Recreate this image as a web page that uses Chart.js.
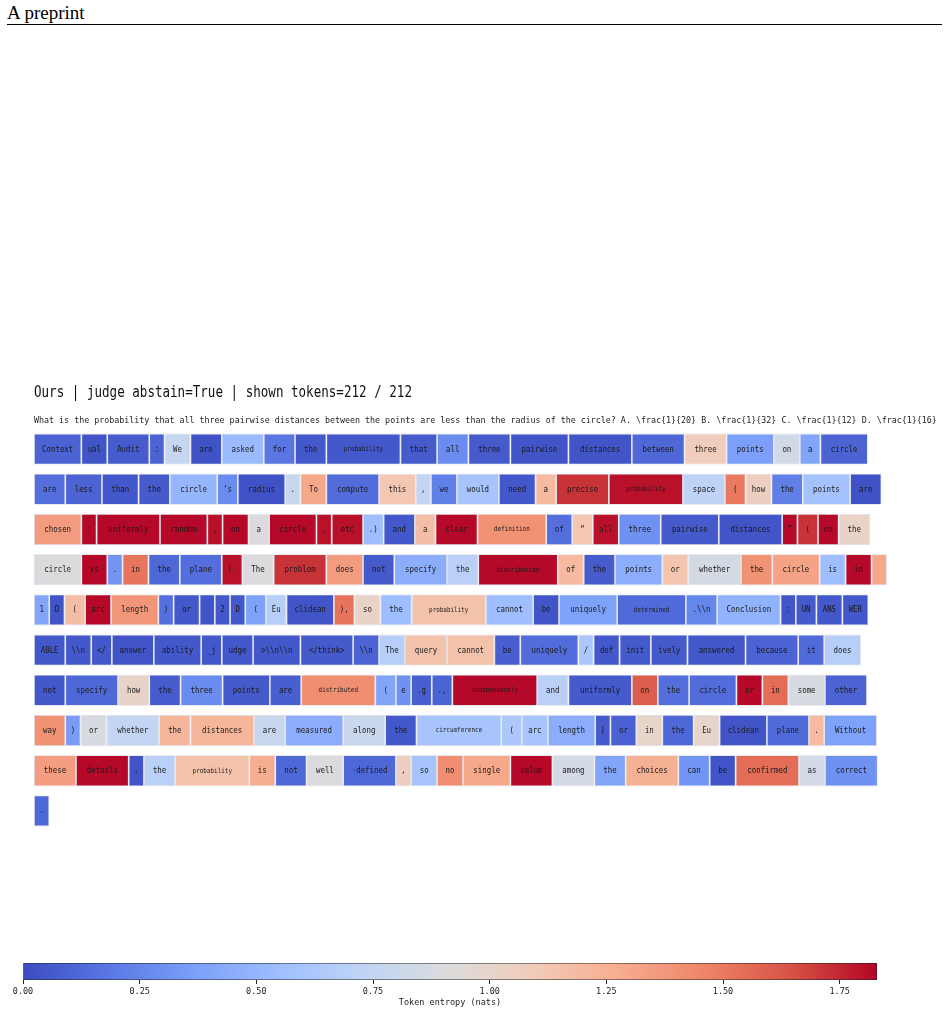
<!DOCTYPE html>
<html>
<head>
<meta charset="utf-8">
<script src="https://cdn.jsdelivr.net/npm/chart.js@4.4.1/dist/chart.umd.min.js"></script>
<style>
    html, body { margin: 0; padding: 0; background: #fff; }
    body { width: 949px; height: 1014px; position: relative; overflow: hidden; }
    #header {
        position: absolute; left: 7px; top: 2px; width: 935px;
        font-family: 'Liberation Serif', 'DejaVu Serif', serif;
        font-size: 19px; line-height: 21px;
        border-bottom: 1px solid #000; padding-bottom: 1px;
    }
    #tokenWrap { position: absolute; left: 0; top: 370px; }
    #cbarWrap { position: absolute; left: 0; top: 950px; }
</style>
</head>
<body>
<div id="header">A preprint</div>
<div id="tokenWrap"><canvas id="tokenChart" width="949" height="470"></canvas></div>
<div id="cbarWrap"><canvas id="cbarChart" width="949" height="64"></canvas></div>
<script>
// ---- data ----
const TITLE = 'Ours | judge abstain=True | shown tokens=212 / 212';
const QUESTION = 'What is the probability that all three pairwise distances between the points are less than the radius of the circle? A. \\frac{1}{20} B. \\frac{1}{32} C. \\frac{1}{12} D. \\frac{1}{16}';

// one array per displayed line (leading space kept as in the tokenizer)
const TOKEN_ROWS = [
    ['Context', 'ual', ' Audit', ':', ' We', ' are', ' asked', ' for', ' the', ' probability', ' that', ' all', ' three', ' pairwise', ' distances', ' between', ' three', ' points', ' on', ' a', ' circle'],
    [' are', ' less', ' than', ' the', ' circle', '’s', ' radius', '.', ' To', ' compute', ' this', ',', ' we', ' would', ' need', ' a', ' precise', ' probability', ' space', ' (', 'how', ' the', ' points', ' are'],
    [' chosen', ':', ' uniformly', ' random', ',', ' on', ' a', ' circle', ',', ' etc', '.)', ' and', ' a', ' clear', ' definition', ' of', ' “', 'all', ' three', ' pairwise', ' distances', '”', ' (', 'on', ' the'],
    [' circle', ' vs', '.', ' in', ' the', ' plane', ').', ' The', ' problem', ' does', ' not', ' specify', ' the', ' distribution', ' of', ' the', ' points', ' or', ' whether', ' the', ' circle', ' is', ' in', ' '],
    ['1', 'D', ' (', 'arc', ' length', ')', ' or', ' ', '2', 'D', ' (', 'Eu', 'clidean', '),', ' so', ' the', ' probability', ' cannot', ' be', ' uniquely', ' determined', '.\\\\n', 'Conclusion', ':', 'UN', 'ANS', 'WER'],
    ['ABLE', '\\\\n', '</', 'answer', 'ability', '_j', 'udge', '>\\\\n\\\\n', '</think>', '\\\\n', 'The', ' query', ' cannot', ' be', ' uniquely', '/', 'def', 'init', 'ively', ' answered', ' because', ' it', ' does'],
    [' not', ' specify', ' how', ' the', ' three', ' points', ' are', ' distributed', ' (', 'e', '.g', '.,', ' independently', ' and', ' uniformly', ' on', ' the', ' circle', ' or', ' in', ' some', ' other'],
    [' way', ')', ' or', ' whether', ' the', ' distances', ' are', ' measured', ' along', ' the', ' circumference', ' (', 'arc', ' length', ')', ' or', ' in', ' the', ' Eu', 'clidean', ' plane', '.', ' Without'],
    [' these', ' details', ',', ' the', ' probability', ' is', ' not', ' well', '-defined', ',', ' so', ' no', ' single', ' value', ' among', ' the', ' choices', ' can', ' be', ' confirmed', ' as', ' correct'],
    ['.']
];

// token entropy (nats), same shape as TOKEN_ROWS
const ENTROPY_ROWS = [
    [0.10, 0.04, 0.07, 0.10, 0.77, 0.03, 0.53, 0.18, 0.05, 0.05, 0.07, 0.28, 0.06, 0.04, 0.04, 0.12, 1.08, 0.37, 0.84, 0.40, 0.10],
    [0.15, 0.10, 0.05, 0.06, 0.50, 0.28, 0.03, 0.78, 1.30, 0.14, 1.12, 0.75, 0.22, 0.60, 0.05, 1.20, 1.72, 1.80, 0.72, 1.50, 1.05, 0.22, 0.58, 0.03],
    [1.36, 1.82, 1.82, 1.82, 1.80, 1.82, 0.90, 1.82, 1.80, 1.80, 0.55, 0.05, 1.18, 1.82, 1.40, 0.15, 1.12, 1.80, 0.30, 0.06, 0.04, 1.82, 1.72, 1.82, 1.02],
    [0.90, 1.82, 0.32, 1.52, 0.12, 0.15, 1.80, 0.90, 1.72, 1.36, 0.06, 0.45, 0.70, 1.82, 1.20, 0.07, 0.45, 1.14, 0.86, 1.40, 1.32, 0.55, 1.82, 1.30],
    [0.40, 0.04, 1.18, 1.82, 1.38, 0.15, 0.05, 0.04, 0.05, 0.05, 0.38, 0.68, 0.04, 1.52, 1.02, 0.55, 1.15, 0.55, 0.04, 0.38, 0.13, 0.25, 0.48, 0.04, 0.06, 0.05, 0.05],
    [0.05, 0.05, 0.05, 0.04, 0.05, 0.05, 0.05, 0.05, 0.06, 0.10, 0.68, 1.15, 1.15, 0.08, 0.14, 0.62, 0.05, 0.06, 0.06, 0.05, 0.10, 0.13, 0.68],
    [0.05, 0.12, 1.02, 0.07, 0.28, 0.06, 0.08, 1.42, 0.40, 0.30, 0.08, 0.10, 1.82, 0.70, 0.06, 1.60, 0.15, 0.14, 1.82, 1.55, 0.88, 0.10],
    [1.40, 0.35, 0.88, 0.75, 1.22, 1.22, 0.78, 0.45, 0.80, 0.05, 0.60, 0.62, 0.60, 0.45, 0.06, 0.09, 1.00, 0.12, 1.00, 0.04, 0.13, 1.20, 0.38],
    [1.35, 1.82, 0.04, 0.70, 1.15, 1.27, 0.12, 0.90, 0.12, 1.05, 0.60, 1.42, 1.30, 1.82, 0.85, 0.40, 1.25, 0.32, 0.04, 1.55, 0.85, 0.30],
    [0.12]
];

const ENTROPY_MAX = 1.83;
const CBAR_TICKS = [0.00, 0.25, 0.50, 0.75, 1.00, 1.25, 1.50, 1.75];
const CBAR_LABEL = 'Token entropy (nats)';

// ---- colour map (matplotlib coolwarm, 11 stops) ----
const COOLWARM = ['#3b4cc0', '#5977e3', '#7b9ff9', '#9ebeff', '#c0d4f5', '#dddcdc',
                  '#f2cbb7', '#f7ac8e', '#ee8468', '#d65244', '#b40426'];

function hexToRgb(h) {
    return [parseInt(h.slice(1, 3), 16), parseInt(h.slice(3, 5), 16), parseInt(h.slice(5, 7), 16)];
}

function coolwarm(t) {
    t = Math.min(1, Math.max(0, t));
    const pos = t * (COOLWARM.length - 1);
    const i = Math.min(COOLWARM.length - 2, Math.floor(pos));
    const f = pos - i;
    const a = hexToRgb(COOLWARM[i]);
    const b = hexToRgb(COOLWARM[i + 1]);
    const c = a.map((v, k) => Math.round(v + (b[k] - v) * f));
    return `rgb(${c[0]}, ${c[1]}, ${c[2]})`;
}

// ---- token layout: box width follows token length (in character units) ----
const CHAR_PAD = 1.85;
const MONO = '"DejaVu Sans Mono", "Liberation Mono", monospace';

function tokenSpans(row) {
    let x = 0;
    return row.map(tok => {
        const span = [x, x + tok.length + CHAR_PAD];
        x = span[1];
        return span;
    });
}

const spans = TOKEN_ROWS.map(tokenSpans);
const maxCols = Math.max(...TOKEN_ROWS.map(r => r.length));

// one dataset per column position, bars overlap on the row (grouped: false)
const datasets = [];
for (let j = 0; j < maxCols; j++) {
    datasets.push({
        data: spans.map(r => r[j] || null),
        backgroundColor: ENTROPY_ROWS.map(r => (r[j] != null ? coolwarm(r[j] / ENTROPY_MAX) : 'transparent')),
        borderColor: 'rgba(215, 215, 225, 0.9)',
        borderWidth: 0.8,
        borderSkipped: false,
        barPercentage: 0.77,
        categoryPercentage: 1,
        grouped: false
    });
}

// condensed text helper
function drawCondensed(ctx, text, x, y, size, squeeze, align) {
    ctx.save();
    ctx.translate(x, y);
    ctx.scale(squeeze, 1);
    ctx.font = `${size}px ${MONO}`;
    ctx.textAlign = align;
    ctx.textBaseline = 'middle';
    ctx.fillText(text, 0, 0);
    ctx.restore();
}

// title + question above the token grid
const headingPlugin = {
    id: 'heading',
    afterDraw(chart) {
        const { ctx, chartArea } = chart;
        ctx.save();
        ctx.fillStyle = '#111';
        drawCondensed(ctx, TITLE, chartArea.left, chartArea.top - 36, 15.5, 0.81, 'left');
        ctx.fillStyle = '#222';
        drawCondensed(ctx, QUESTION, chartArea.left, chartArea.top - 8, 9.5, 0.877, 'left');
        ctx.restore();
    }
};

// token text inside each box
const tokenTextPlugin = {
    id: 'tokenText',
    afterDatasetsDraw(chart) {
        const ctx = chart.ctx;
        ctx.save();
        ctx.fillStyle = '#1a1a1a';
        chart.data.datasets.forEach((ds, j) => {
            const meta = chart.getDatasetMeta(j);
            meta.data.forEach((bar, r) => {
                const tok = TOKEN_ROWS[r][j];
                if (tok == null) return;
                const txt = tok.trim();
                if (!txt) return;
                const small = tok.length >= 11;
                const p = bar.getProps(['x', 'y', 'base'], true);
                drawCondensed(ctx, txt, (p.x + p.base) / 2, p.y, small ? 7 : 9.5, small ? 0.85 : 0.78, 'center');
            });
        });
        ctx.restore();
    }
};

new Chart(document.getElementById('tokenChart'), {
    type: 'bar',
    data: {
        labels: TOKEN_ROWS.map((_, i) => 'line ' + (i + 1)),
        datasets: datasets
    },
    options: {
        indexAxis: 'y',
        responsive: false,
        animation: false,
        layout: { padding: { left: 34, right: 51, top: 59, bottom: 9 } },
        plugins: {
            legend: { display: false },
            tooltip: { enabled: false }
        },
        scales: {
            x: { type: 'linear', min: 0, max: 161.5, display: false },
            y: { type: 'category', display: false, offset: true }
        }
    },
    plugins: [headingPlugin, tokenTextPlugin]
});

// ---- colour bar ----
function cbarGradient(context) {
    const chart = context.chart;
    const area = chart.chartArea;
    if (!area) return null;
    const g = chart.ctx.createLinearGradient(area.left, 0, area.right, 0);
    COOLWARM.forEach((col, i) => g.addColorStop(i / (COOLWARM.length - 1), col));
    return g;
}

// axis label under the tick labels (kept out of the layout so the bar keeps its height)
const cbarLabelPlugin = {
    id: 'cbarLabel',
    afterDraw(chart) {
        const { ctx, chartArea } = chart;
        ctx.save();
        ctx.fillStyle = '#222';
        ctx.font = `8.5px ${MONO}`;
        ctx.textAlign = 'center';
        ctx.textBaseline = 'middle';
        ctx.fillText(CBAR_LABEL, (chartArea.left + chartArea.right) / 2, chartArea.bottom + 23);
        ctx.restore();
    }
};

new Chart(document.getElementById('cbarChart'), {
    type: 'bar',
    data: {
        labels: [''],
        datasets: [{
            data: [[0, ENTROPY_MAX]],
            backgroundColor: cbarGradient,
            borderColor: '#222',
            borderWidth: 0.8,
            borderSkipped: false,
            barPercentage: 1,
            categoryPercentage: 1
        }]
    },
    options: {
        indexAxis: 'y',
        responsive: false,
        animation: false,
        layout: { padding: { left: 23, right: 72, top: 13, bottom: 17 } },
        plugins: {
            legend: { display: false },
            tooltip: { enabled: false }
        },
        scales: {
            x: {
                type: 'linear',
                min: 0,
                max: ENTROPY_MAX,
                afterBuildTicks: axis => { axis.ticks = CBAR_TICKS.map(v => ({ value: v })); },
                ticks: {
                    autoSkip: false,
                    maxRotation: 0,
                    padding: 3,
                    color: '#222',
                    font: { family: MONO, size: 8.5 },
                    callback: v => Number(v).toFixed(2)
                },
                grid: { display: true, drawOnChartArea: false, drawTicks: true, tickLength: 4, color: '#222' },
                border: { display: false },
                title: { display: false }
            },
            y: { display: false }
        }
    },
    plugins: [cbarLabelPlugin]
});
</script>
</body>
</html>
